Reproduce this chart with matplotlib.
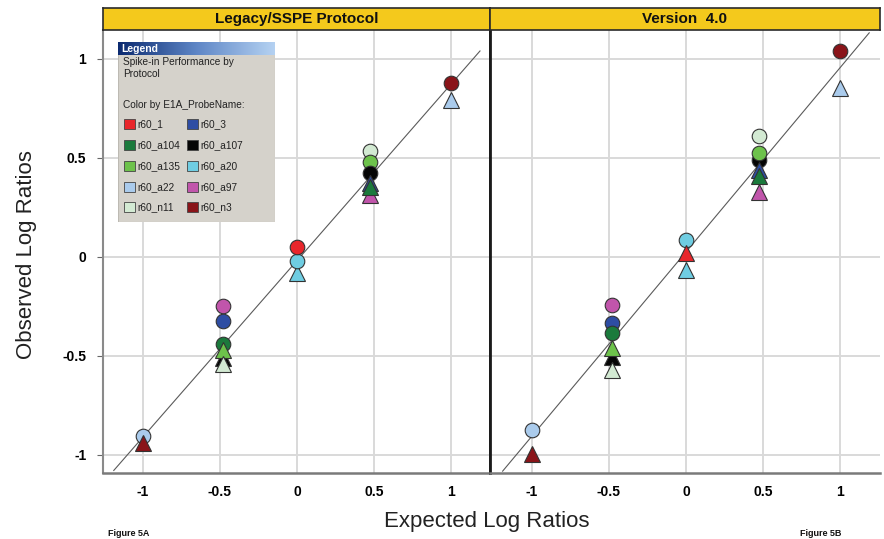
import numpy as np
import matplotlib
matplotlib.use("Agg")
import matplotlib.pyplot as plt
from matplotlib.patches import Rectangle
from matplotlib.colors import LinearSegmentedColormap

plt.rcParams['font.family'] = ['Liberation Sans', 'DejaVu Sans']

# ---- probe colours ----
probe_names = ['r60_1', 'r60_3', 'r60_a104', 'r60_a107', 'r60_a135',
               'r60_a20', 'r60_a22', 'r60_a97', 'r60_n11', 'r60_n3']
probe_colors = ['#E8262B', '#2E4DA3', '#1B7A3C', '#050505', '#6DC24B',
                '#6FCDE2', '#AACBEC', '#C155AB', '#D3EAD3', '#8A1419']

# ---- Legacy/SSPE protocol ----
legacy_probe = ['r60_a22', 'r60_n3',
                'r60_a97', 'r60_3', 'r60_a104', 'r60_a107', 'r60_a135', 'r60_n11',
                'r60_a20', 'r60_a20', 'r60_1',
                'r60_n11', 'r60_a135', 'r60_a107', 'r60_a97', 'r60_3', 'r60_a104',
                'r60_a22', 'r60_n3']
legacy_expected = [-1, -1,
                   -0.477, -0.477, -0.477, -0.477, -0.477, -0.477,
                   0, 0, 0,
                   0.477, 0.477, 0.477, 0.477, 0.477, 0.477,
                   1, 1]
legacy_observed = [-0.904, -0.94,
                   -0.249, -0.323, -0.44, -0.51, -0.47, -0.54,
                   -0.08, -0.02, 0.05,
                   0.535, 0.477, 0.424, 0.31, 0.37, 0.354,
                   0.79, 0.876]
legacy_marker = ['o', '^',
                 'o', 'o', 'o', '^', '^', '^',
                 '^', 'o', 'o',
                 'o', 'o', 'o', '^', '^', '^',
                 '^', 'o']

# ---- Version 4.0 ----
v4_probe = ['r60_a22', 'r60_n3',
            'r60_a97', 'r60_3', 'r60_a104', 'r60_a107', 'r60_a135', 'r60_n11',
            'r60_a20', 'r60_a20', 'r60_1',
            'r60_n11', 'r60_a107', 'r60_a135', 'r60_a97', 'r60_3', 'r60_a104',
            'r60_a22', 'r60_n3']
v4_expected = [-1, -1,
               -0.477, -0.477, -0.477, -0.477, -0.477, -0.477,
               0, 0, 0,
               0.477, 0.477, 0.477, 0.477, 0.477, 0.477,
               1, 1]
v4_observed = [-0.875, -0.997,
               -0.244, -0.333, -0.384, -0.505, -0.463, -0.572,
               -0.067, 0.084, 0.017,
               0.61, 0.49, 0.522, 0.328, 0.438, 0.407,
               0.85, 1.04]
v4_marker = ['o', '^',
             'o', 'o', 'o', '^', '^', '^',
             '^', 'o', '^',
             'o', 'o', 'o', '^', '^', '^',
             '^', 'o']

# fitted trend lines (slope, intercept)
legacy_fit = (0.89, -0.02)
v4_fit = (0.93, 0.024)

panel_titles = ['Legacy/SSPE Protocol', 'Version  4.0']
panel_captions = ['Figure 5A', 'Figure 5B']
tick_values = [-1, -0.5, 0, 0.5, 1]
tick_labels = ['-1', '-0.5', '0', '0.5', '1']

W, H = 884, 539
fig = plt.figure(figsize=(W / 100, H / 100), dpi=100)
fig.patch.set_facecolor('white')


def fx(px):
    return px / W


def fy(py):
    return 1 - py / H


color_of = dict(zip(probe_names, probe_colors))

panels = [
    dict(x0=103, x1=490, xlim=(-1.26, 1.255), probe=legacy_probe, ex=legacy_expected,
         ob=legacy_observed, mk=legacy_marker, fit=legacy_fit, cap_x=108),
    dict(x0=490, x1=880, xlim=(-1.272, 1.26), probe=v4_probe, ex=v4_expected,
         ob=v4_observed, mk=v4_marker, fit=v4_fit, cap_x=800),
]
top, bottom = 30, 473

for i, p in enumerate(panels):
    ax = fig.add_axes([fx(p['x0']), fy(bottom), fx(p['x1'] - p['x0']), (bottom - top) / H])
    ax.set_xlim(*p['xlim'])
    ax.set_ylim(-1.092, 1.145)
    ax.set_xticks(tick_values)
    ax.set_xticklabels(tick_labels, fontweight='bold', fontsize=10)
    ax.set_yticks(tick_values)
    ax.grid(True, color='#D9D9D9', linewidth=1.4)
    ax.set_axisbelow(True)
    ax.tick_params(axis='x', length=0, pad=9)
    if i == 0:
        ax.set_yticklabels(tick_labels, fontweight='bold', fontsize=10)
        ax.tick_params(axis='y', length=4, color='#666666', pad=8)
        ax.spines['left'].set_color('#8A8A8A')
        ax.spines['left'].set_linewidth(1.5)
        ax.spines['right'].set_color('#1A1A1A')
        ax.spines['right'].set_linewidth(2.0)
    else:
        ax.tick_params(axis='y', length=0, labelleft=False)
        ax.spines['left'].set_color('#1A1A1A')
        ax.spines['left'].set_linewidth(2.0)
        ax.spines['right'].set_visible(False)
    ax.spines['top'].set_visible(False)
    ax.spines['bottom'].set_color('#7A7A7A')
    ax.spines['bottom'].set_linewidth(1.8)

    # trend line
    slope, icpt = p['fit']
    xl = np.array([-1.19, 1.19])
    ax.plot(xl, slope * xl + icpt, color='#5A5A5A', linewidth=0.8, zorder=2)

    # points
    for k, (pr, xv, yv, m) in enumerate(zip(p['probe'], p['ex'], p['ob'], p['mk'])):
        ax.plot(xv, yv, marker=m, markersize=10.5 if m == 'o' else 11.5,
                markerfacecolor=color_of[pr], markeredgecolor='#333333',
                markeredgewidth=0.8, linestyle='none', zorder=3 + k)

    # yellow header strip
    hax = fig.add_axes([fx(p['x0']), fy(top), fx(p['x1'] - p['x0']), 22 / H])
    hax.set_xticks([])
    hax.set_yticks([])
    hax.set_facecolor('#F4C91C')
    for s in hax.spines.values():
        s.set_color('#2A2A2A')
        s.set_linewidth(1.2)
    hax.text(0.5, 0.5, panel_titles[i], transform=hax.transAxes, ha='center',
             va='center', fontsize=11, fontweight='bold', color='#111111')

    # caption at the lower edge
    fig.text(fx(p['cap_x']), fy(538), panel_captions[i], ha='left', va='bottom',
             fontsize=6.5, fontweight='bold', color='#111111')

# axis titles
fig.text(fx(27), fy(255), 'Observed Log Ratios', rotation=90, ha='center',
         va='center', fontsize=16, color='#222222')
fig.text(fx(487), fy(522), 'Expected Log Ratios', ha='center', va='center',
         fontsize=16, color='#222222')

# ---- legend panel ----
lx0, ly0, lw, lh = 118, 42, 157, 180
lax = fig.add_axes([fx(lx0), fy(ly0 + lh), fx(lw), lh / H])
lax.axis('off')
lax.add_patch(Rectangle((0, 0), lw, lh, facecolor='#D5D2CB', edgecolor='#BDBAB3',
                        linewidth=0.8, zorder=0))
grad = np.linspace(0, 1, 256).reshape(1, -1)
title_cmap = LinearSegmentedColormap.from_list('titlebar', ['#0B2A70', '#5E86C6', '#B5D2F2'])
lax.imshow(grad, cmap=title_cmap, extent=(0, lw, 13.5, 0), aspect='auto', zorder=1)
lax.set_xlim(0, lw)
lax.set_ylim(lh, 0)
lax.text(3, 7, 'Legend', color='white', fontsize=7.5, fontweight='bold',
         va='center', ha='left', zorder=2)
lax.text(5, 26, 'Spike-in Performance by\nProtocol', fontsize=7.3, va='center',
         ha='left', color='#222222', linespacing=1.15)
lax.text(5, 63, 'Color by E1A_ProbeName:', fontsize=7.3, va='center', ha='left',
         color='#222222')
row_y = [82, 103, 124, 145, 165]
col_x = [6, 69]
for idx, (name, col) in enumerate(zip(probe_names, probe_colors)):
    r, c = divmod(idx, 2)
    lax.add_patch(Rectangle((col_x[c], row_y[r] - 5), 11, 10, facecolor=col,
                            edgecolor='#444444', linewidth=0.6, zorder=2))
    lax.text(col_x[c] + 13, row_y[r], name, fontsize=7.3, va='center', ha='left',
             color='#222222')

fig.savefig('out.png', dpi=100, facecolor='white')
